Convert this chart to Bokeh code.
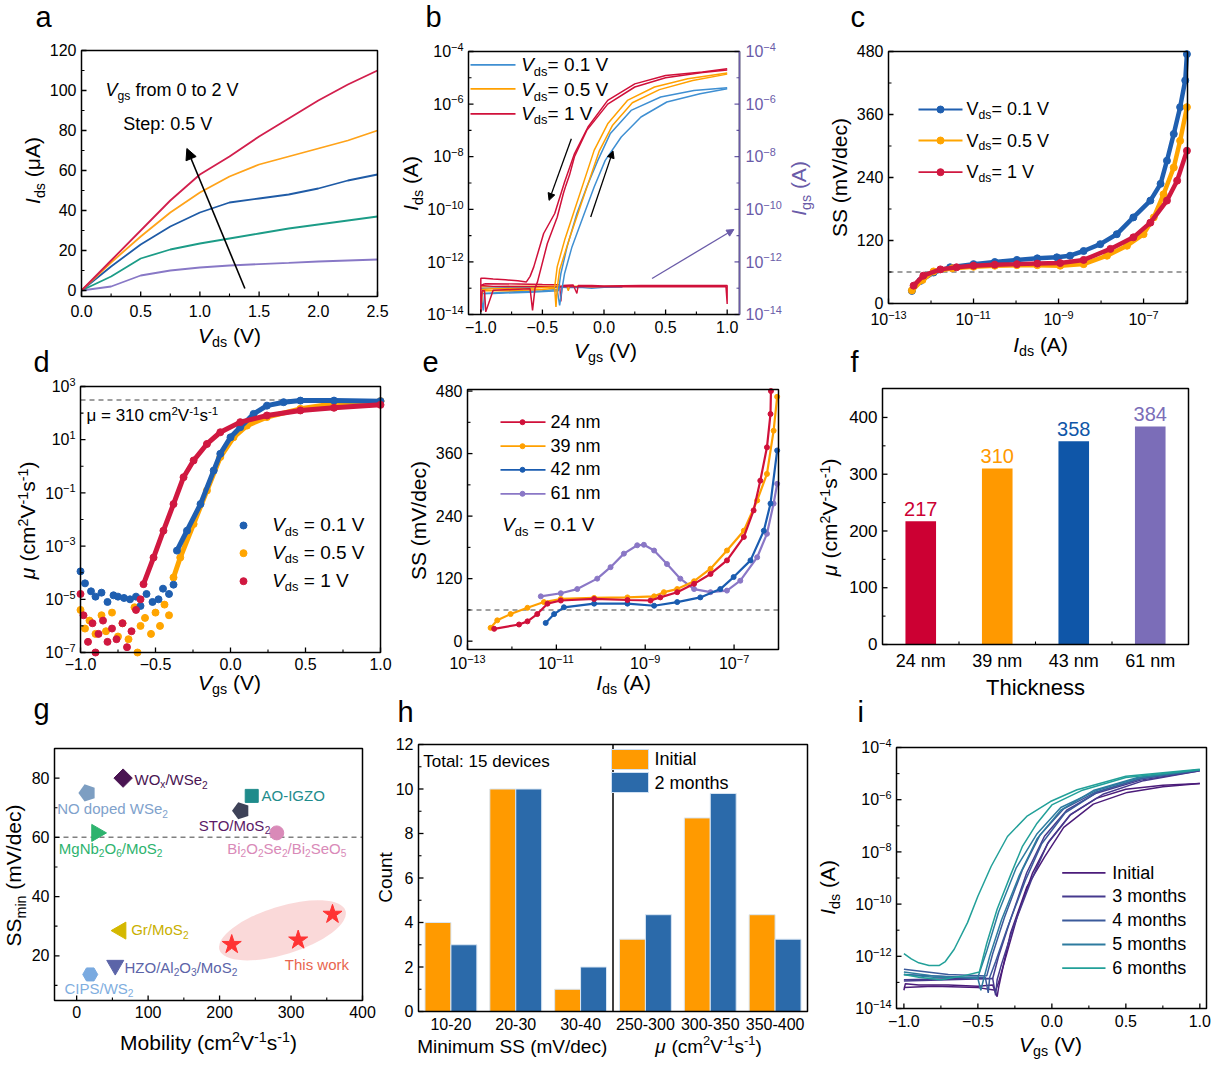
import math
from bokeh.plotting import figure
from bokeh.models import Range1d, Label, Arrow, NormalHead, LinearScale, LogScale
from bokeh.embed import file_html
from bokeh.resources import INLINE

FONT = "Liberation Sans"

# ---------------- (a) output curves ----------------
A_VDS = [0, 0.25, 0.5, 0.75, 1.0, 1.25, 1.5, 1.75, 2.0, 2.25, 2.5]
A_VGS_0 = [0, 2, 7.5, 10, 11.5, 12.5, 13.2, 13.8, 14.5, 15, 15.5]
A_VGS_05 = [0, 7, 16, 20.5, 23.5, 26, 28.5, 31, 33, 35, 37]
A_VGS_10 = [0, 12, 23, 32, 39, 44, 46, 48, 51, 55, 58]
A_VGS_15 = [0, 14, 27, 39, 49, 57, 63, 67, 71, 75, 80]
A_VGS_20 = [0, 15, 30, 45, 58, 67, 77, 86, 95, 103, 110]
A_COLORS = ["#8878C6", "#1C9C87", "#1F5BA6", "#FFA31A", "#D21F4D"]

# ---------------- (b) transfer curves (log10 of current) ----------------
B_RED_L_V = [1.0, 0.8, 0.5, 0.25, 0.03, -0.13, -0.24, -0.32, -0.4, -0.49, -0.57, -0.6, -0.63, -0.7, -0.8, -0.9, -0.97, -1.0, -1.0]
B_RED_L_I = [-4.66, -4.78, -4.91, -5.23, -5.86, -6.87, -7.89, -8.96, -10.16, -10.92, -12.19, -12.55, -12.76, -12.72, -12.68, -12.65, -12.62, -12.62, -13.9]
B_RED_R_V = [-1.0, -0.99, -0.97, -0.96, -0.9, -0.75, -0.6, -0.58, -0.56, -0.54, -0.46, -0.38, -0.33, -0.31, -0.28, -0.24, -0.14, 0.03, 0.25, 0.5, 0.8, 1.0]
B_RED_R_I = [-13.9, -13.1, -13.1, -13.9, -13.08, -13.05, -13.02, -13.84, -13.0, -12.76, -11.3, -10.3, -9.4, -9.1, -8.7, -8.0, -7.0, -6.0, -5.35, -5.0, -4.8, -4.7]
B_ORA_L_V = [1.0, 0.68, 0.41, 0.19, 0.03, -0.08, -0.16, -0.24, -0.32, -0.38, -0.4, -0.6, -0.9, -1.0]
B_ORA_L_I = [-4.82, -5.04, -5.35, -5.86, -6.75, -7.76, -8.9, -10.04, -11.18, -12.19, -12.95, -13.0, -13.02, -13.05]
B_ORA_R_V = [-1.0, -0.99, -0.98, -0.8, -0.5, -0.4, -0.39, -0.38, -0.36, -0.34, -0.28, -0.2, -0.12, -0.04, 0.07, 0.23, 0.45, 0.72, 1.0]
B_ORA_R_I = [-13.9, -13.2, -13.1, -13.1, -13.05, -13.0, -13.71, -13.0, -12.3, -12.0, -11.1, -10.0, -8.9, -7.8, -6.8, -5.95, -5.45, -5.1, -4.86]
B_BLU_L_V = [1.0, 0.73, 0.46, 0.22, 0.05, -0.05, -0.14, -0.22, -0.3, -0.35, -0.37, -0.6, -0.9, -1.0]
B_BLU_L_I = [-5.38, -5.48, -5.73, -6.24, -7.13, -8.14, -9.15, -10.16, -11.43, -12.44, -13.1, -13.15, -13.2, -13.2]
B_BLU_R_V = [-1.0, -0.98, -0.97, -0.8, -0.5, -0.38, -0.36, -0.34, -0.32, -0.26, -0.16, -0.08, 0.01, 0.14, 0.3, 0.51, 0.78, 1.0]
B_BLU_R_I = [-13.2, -13.85, -13.2, -13.15, -13.1, -13.05, -13.65, -13.0, -12.44, -11.43, -10.16, -9.15, -8.14, -7.25, -6.49, -5.92, -5.61, -5.42]
B_IGS_V = [-1.0, -0.98, -0.96, -0.7, -0.5, -0.36, -0.35, -0.34, -0.25, -0.22, -0.21, -0.1, 0.0, 0.3, 0.6, 0.9, 0.99, 1.0, 1.0, 0.99, 0.5, 0.0, -0.5, -0.9, -1.0]
B_IGS_RED = [-12.9, -12.85, -12.83, -12.84, -12.86, -12.87, -13.5, -12.9, -12.88, -13.2, -12.9, -12.9, -12.91, -12.9, -12.9, -12.9, -12.9, -12.9, -13.6, -12.95, -12.94, -12.95, -12.94, -12.93, -12.9]
B_IGS_V2 = [-1.0, -0.8, -0.6, -0.4, -0.3, -0.29, -0.28, -0.2, -0.1, 0.0, 0.15]
B_IGS_ORA = [-12.95, -12.93, -12.92, -12.92, -12.93, -13.1, -12.93, -12.92, -12.95, -12.93, -12.92]
B_IGS_BLU = [-13.0, -12.98, -12.97, -12.96, -12.98, -13.05, -12.98, -12.97, -13.0, -12.97, -12.96]
B_LEGEND = ["0.1 V", "0.5 V", "1 V"]
B_COLORS = ["#3F8FD2", "#FFA000", "#D0103A"]
B_PURPLE = "#6A5BA8"

# ---------------- (c) SS vs Ids ----------------
C_X01 = [-12.45, -12.25, -11.94, -11.55, -11.0, -10.5, -9.98, -9.5, -9.04, -8.73, -8.41, -8.02, -7.63, -7.24, -6.84, -6.6, -6.45, -6.29, -6.14, -6.02, -5.98]
C_Y01 = [24, 43, 59, 69, 75, 79, 83, 86, 88, 91, 100, 113, 132, 164, 196, 228, 272, 323, 374, 425, 475]
C_X05 = [-12.45, -12.2, -11.94, -11.5, -11.0, -10.5, -9.98, -9.5, -8.96, -8.41, -7.86, -7.39, -7.0, -6.76, -6.53, -6.29, -6.14, -5.98]
C_Y05 = [25, 45, 61, 67, 70, 72, 73, 73, 72, 75, 91, 110, 132, 164, 208, 259, 310, 374]
C_X1 = [-12.41, -12.18, -11.78, -11.4, -11.0, -10.5, -9.98, -9.5, -8.96, -8.41, -7.78, -7.24, -6.84, -6.45, -6.21, -5.98]
C_Y1 = [34, 53, 65, 69, 72, 74, 75, 76, 77, 83, 104, 126, 154, 196, 234, 291]
C_COLORS = ["#1F5FB0", "#FFA500", "#D01840"]

# ---------------- (d) mobility vs Vgs ----------------
D_V01 = [-0.357, -0.29, -0.2, -0.112, -0.068, 0.0, 0.065, 0.154, 0.243, 0.354, 0.466, 0.69, 1.0]
D_L01 = [-3.17, -2.42, -1.42, -0.16, 0.47, 1.09, 1.47, 1.97, 2.28, 2.41, 2.47, 2.47, 2.45]
D_V05 = [-0.38, -0.335, -0.246, -0.157, -0.068, 0.02, 0.11, 0.243, 0.466, 0.69, 1.0]
D_L05 = [-4.18, -3.43, -2.17, -0.91, 0.35, 1.09, 1.53, 1.85, 2.16, 2.35, 2.45]
D_V1 = [-0.58, -0.513, -0.447, -0.38, -0.313, -0.246, -0.157, -0.068, 0.065, 0.243, 0.466, 0.69, 1.0]
D_L1 = [-4.43, -3.43, -2.42, -1.42, -0.41, 0.22, 0.84, 1.28, 1.66, 1.91, 2.1, 2.2, 2.31]
D_N01_V = [-1.0, -0.97, -0.93, -0.9, -0.86, -0.82, -0.78, -0.75, -0.71, -0.67, -0.63, -0.6, -0.56, -0.52, -0.48, -0.45, -0.41, -0.38]
D_N01_L = [-3.95, -4.4, -4.7, -4.9, -4.75, -5.1, -4.85, -4.9, -4.95, -5.0, -4.9, -5.25, -4.8, -5.1, -5.0, -4.6, -4.8, -4.45]
D_N05_V = [-1.0, -0.97, -0.94, -0.9, -0.86, -0.83, -0.79, -0.75, -0.72, -0.68, -0.64, -0.6, -0.57, -0.53, -0.5, -0.47, -0.44, -0.41, -0.62]
D_N05_L = [-5.4, -6.1, -5.8, -6.3, -5.6, -6.2, -5.5, -6.4, -5.9, -6.5, -5.3, -6.0, -5.7, -6.3, -5.5, -6.0, -5.2, -5.6, -7.0]
D_N1_V = [-1.0, -0.98, -0.95, -0.92, -0.88, -0.85, -0.82, -0.79, -0.76, -0.72, -0.69, -0.66, -0.63, -0.6, -0.9]
D_N1_L = [-4.8, -5.6, -6.6, -5.9, -6.3, -5.8, -6.6, -6.1, -6.5, -5.9, -6.8, -6.2, -5.4, -5.0, -7.0]
D_MU_REF = 310

# ---------------- (e) SS vs Ids for thicknesses ----------------
E_X24 = [-12.4, -11.84, -11.65, -11.43, -11.2, -10.9, -10.15, -9.4, -8.88, -8.66, -8.28, -7.9, -7.53, -7.16, -6.78, -6.56, -6.41, -6.26, -6.18, -6.17]
E_Y24 = [23.7, 32, 38, 52, 72, 78, 81, 79, 78, 84, 94, 110, 129, 155, 200, 251, 308, 372, 436, 480]
E_X39 = [-12.48, -12.33, -12.03, -11.65, -11.28, -10.9, -10.15, -9.4, -8.8, -8.58, -8.28, -7.9, -7.53, -7.16, -6.78, -6.48, -6.26, -6.11, -6.03]
E_Y39 = [25.6, 40, 52, 64, 75, 81, 83, 84, 86, 94, 100, 115, 139, 174, 212, 270, 321, 404, 469]
E_X42 = [-11.24, -11.05, -10.83, -10.15, -9.4, -8.8, -8.28, -7.76, -7.31, -7.01, -6.63, -6.33, -6.18, -6.03]
E_Y42 = [35, 52, 65, 72, 72, 68, 75, 84, 100, 123, 155, 212, 264, 366]
E_X61 = [-11.35, -10.9, -10.53, -10.08, -9.78, -9.48, -9.18, -9.03, -8.8, -8.51, -8.21, -7.9, -7.53, -7.16, -6.86, -6.48, -6.26, -6.11, -6.03]
E_Y61 = [86, 92, 100, 120, 142, 168, 184, 185, 174, 148, 120, 100, 94, 97, 116, 161, 206, 264, 302]
E_NAMES = ["24 nm", "39 nm", "42 nm", "61 nm"]
E_COLORS = ["#D0103A", "#FFA000", "#1A5CB0", "#8A77C6"]

# ---------------- (f) mobility vs thickness ----------------
F_CAT = ["24 nm", "39 nm", "43 nm", "61 nm"]
F_MU = [217, 310, 358, 384]
F_COLORS = ["#CC0033", "#FF9900", "#0F56A8", "#7B6DB8"]

# ---------------- (g) benchmark ----------------
G_WOX = (65, 80)
G_NOWSE = (15, 75)
G_AOIGZO = (245, 74)
G_STO = (230, 69)
G_BI = (280, 61.5)
G_MGNB = (28, 61.5)
G_GR = (62, 28.5)
G_HZO = (54, 16.8)
G_CIPS = (19, 13.7)
G_THIS_MOB = [217, 310, 358]
G_THIS_SS = [23.8, 25.3, 34.0]

# ---------------- (h) histograms ----------------
H_BINS = ["10-20", "20-30", "30-40", "250-300", "300-350", "350-400"]
H_INITIAL = [4, 10, 1, 3.25, 8.7, 4.35]
H_2MONTHS = [3, 10, 2, 4.35, 9.8, 3.25]

# ---------------- (i) aging transfer curves ----------------
I_NAMES = ["Initial", "3 months", "4 months", "5 months", "6 months"]
I_COLORS = ["#4B1C7A", "#463A8E", "#3B5A9B", "#2D7B9F", "#22A099"]
I0_A_V = [-1.0, -0.99, -0.9, -0.7, -0.5, -0.4, -0.37, -0.36, -0.33, -0.28, -0.17, -0.05, 0.08, 0.28, 0.51, 0.75, 1.0]
I0_A_I = [-13.3, -13.05, -13.1, -13.1, -13.15, -13.1, -13.55, -13.2, -12.4, -11.13, -9.35, -8.2, -7.06, -6.17, -5.72, -5.5, -5.38]
I0_B_V = [1.0, 0.75, 0.5, 0.3, 0.12, -0.02, -0.13, -0.23, -0.3, -0.36, -0.38, -0.5, -0.8, -1.0]
I0_B_I = [-5.38, -5.45, -5.6, -5.95, -6.6, -7.6, -8.8, -10.4, -11.8, -13.0, -13.3, -13.2, -13.15, -13.2]
I3_A_V = [-1.0, -0.6, -0.4, -0.38, -0.37, -0.34, -0.26, -0.14, -0.03, 0.13, 0.35, 0.62, 1.0]
I3_A_I = [-12.9, -12.85, -12.85, -13.5, -12.9, -12.3, -10.88, -9.1, -7.69, -6.55, -5.78, -5.27, -4.89]
I3_B_V = [1.0, 0.6, 0.3, 0.1, -0.05, -0.17, -0.28, -0.36, -0.4, -0.7, -1.0]
I3_B_I = [-4.89, -5.25, -5.75, -6.4, -7.4, -8.8, -10.6, -12.0, -12.85, -12.9, -12.95]
I4_A_V = [-1.0, -0.6, -0.45, -0.43, -0.42, -0.38, -0.3, -0.18, -0.07, 0.09, 0.31, 0.6, 1.0]
I4_A_I = [-12.7, -12.8, -12.8, -13.4, -12.8, -12.2, -10.9, -9.1, -7.7, -6.5, -5.7, -5.2, -4.86]
I4_B_V = [1.0, 0.6, 0.3, 0.08, -0.08, -0.2, -0.32, -0.4, -0.44, -0.7, -1.0]
I4_B_I = [-4.86, -5.2, -5.7, -6.35, -7.35, -8.7, -10.5, -11.9, -12.75, -12.7, -12.5]
I5_A_V = [-1.0, -0.8, -0.5, -0.48, -0.46, -0.42, -0.34, -0.22, -0.1, 0.06, 0.28, 0.58, 1.0]
I5_A_I = [-12.6, -12.75, -12.85, -13.3, -12.85, -12.0, -10.6, -8.9, -7.5, -6.4, -5.65, -5.15, -4.85]
I5_B_V = [1.0, 0.6, 0.3, 0.06, -0.1, -0.24, -0.36, -0.44, -0.5, -0.8, -1.0]
I5_B_I = [-4.85, -5.15, -5.65, -6.3, -7.3, -8.6, -10.3, -11.8, -12.8, -12.8, -12.7]
I6_A_V = [-1.0, -0.95, -0.9, -0.83, -0.76, -0.72, -0.66, -0.57, -0.5, -0.41, -0.3, -0.17, -0.01, 0.17, 0.5, 1.0]
I6_A_I = [-11.9, -12.1, -12.25, -12.35, -12.35, -12.2, -11.73, -10.71, -9.7, -8.55, -7.41, -6.64, -6.07, -5.62, -5.1, -4.83]
I6_B_V = [1.0, 0.5, 0.2, 0.0, -0.1, -0.2, -0.28, -0.37, -0.44, -0.49, -0.6, -0.75, -0.9, -1.0]
I6_B_I = [-4.85, -5.15, -5.65, -6.2, -6.9, -7.8, -8.9, -10.2, -11.5, -12.6, -12.75, -12.9, -12.8, -12.7]

# ---------------- tick definitions ----------------
V_T = [-1.0, -0.5, 0.0, 0.5, 1.0]
V_M = [-0.75, -0.25, 0.25, 0.75]
LOG_T = [-14, -12, -10, -8, -6, -4]
LOG_M = [-13, -11, -9, -7, -5]
IDS_T = [-13, -11, -9, -7]
IDS_M = [-12, -10, -8, -6]
MU_T = [-7, -5, -3, -1, 1, 3]
MU_M = [-6, -4, -2, 0, 2]

# ---------------- helpers ----------------
AW = {' ': 278, '!': 278, '(': 333, ')': 333, '-': 333, '.': 278, '/': 278, ':': 278, '=': 584,
      'A': 667, 'B': 667, 'C': 722, 'D': 722, 'E': 667, 'F': 611, 'G': 778, 'H': 722, 'I': 278,
      'J': 500, 'K': 667, 'L': 556, 'M': 833, 'N': 722, 'O': 778, 'P': 667, 'Q': 778, 'R': 722,
      'S': 667, 'T': 611, 'U': 722, 'V': 667, 'W': 944, 'X': 667, 'Y': 667, 'Z': 611,
      'a': 556, 'b': 556, 'c': 500, 'd': 556, 'e': 556, 'f': 278, 'g': 556, 'h': 556, 'i': 222,
      'j': 222, 'k': 500, 'l': 222, 'm': 833, 'n': 556, 'o': 556, 'p': 556, 'q': 556, 'r': 333,
      's': 500, 't': 278, 'u': 556, 'v': 500, 'w': 722, 'x': 500, 'y': 500, 'z': 500,
      'μ': 576, '−': 584}
BASE_K = 0.38    # offset between a Label's anchor and its baseline (em), horizontal text
BASE_KV = 0.52   # same for rotated text

W, H = 1211, 1063
FIG = figure(width=W, height=H, x_range=Range1d(0, W), y_range=Range1d(0, H),
             x_axis_location=None, y_axis_location=None,
             output_backend="svg", toolbar_location=None, title=None,
             min_border=0, min_border_left=0, min_border_right=0,
             min_border_top=0, min_border_bottom=0)
FIG.outline_line_color = None
FIG.background_fill_color = "white"
FIG.border_fill_color = "white"
FIG.xgrid.visible = False
FIG.ygrid.visible = False
for _g in FIG.grid:
    _g.grid_line_color = None
XR, YR, XS, YS = {}, {}, {}, {}


def tw(s, size):
    return sum(AW.get(ch, 556) for ch in s) * size / 1000.0


def lg(v):
    return [10 ** x for x in v]


def num(v, fmt):
    return [((fmt % v).replace("-", "−"), "n")]


def pw(e):
    return [("10", "n"), (("%d" % e).replace("-", "−"), "p")]


class _Proxy:
    def __init__(self, kw):
        self.kw = kw

    def __getattr__(self, name):
        fn = getattr(FIG, name)
        return lambda *a, **k: fn(*a, **k, **self.kw)


class Panel:
    """One sub-plot: its own named x/y ranges on the shared page-sized figure."""

    def __init__(self, name, frame, xr, yr, xlog=False, ylog=False):
        self.fl, self.ft, self.fr, self.fb = frame
        self.xr, self.yr, self.xlog, self.ylog = xr, yr, xlog, ylog
        xn, yn = name + "_x", name + "_y"
        XR[xn] = Range1d(self.xd(0), self.xd(W))
        YR[yn] = Range1d(self.yd(H), self.yd(0))
        XS[xn] = LogScale() if xlog else LinearScale()
        YS[yn] = LogScale() if ylog else LinearScale()
        self.kw = {"x_range_name": xn, "y_range_name": yn}
        self.p = _Proxy(self.kw)

    def _map(self, t, r, log):
        a, b = r
        if log:
            return 10 ** (math.log10(a) + t * (math.log10(b) - math.log10(a)))
        return a + t * (b - a)

    def _inv(self, v, r, log):
        a, b = r
        if log:
            return (math.log10(v) - math.log10(a)) / (math.log10(b) - math.log10(a))
        return (v - a) / (b - a)

    def xd(self, px):
        return self._map((px - self.fl) / (self.fr - self.fl), self.xr, self.xlog)

    def yd(self, py):
        return self._map((self.fb - py) / (self.fb - self.ft), self.yr, self.ylog)

    def xp(self, v):
        return self.fl + self._inv(v, self.xr, self.xlog) * (self.fr - self.fl)

    def yp(self, v):
        return self.fb - self._inv(v, self.yr, self.ylog) * (self.fb - self.ft)

    def rich(self, px, py, segs, size, color="black", vertical=False, align="left"):
        sizes = [size * 0.68 if k in "bp" else size for t, k in segs]
        total = sum(tw(t, s) for (t, k), s in zip(segs, sizes))
        off = {"left": 0.0, "center": -total / 2, "right": -total}[align]
        for (t, k), s in zip(segs, sizes):
            lead = len(t) - len(t.lstrip(" "))
            off += tw(" " * lead, s)
            t = t.lstrip(" ")
            shift = 0.2 * size if k == "b" else (-0.4 * size if k == "p" else 0.0)
            shift -= (BASE_KV if vertical else BASE_K) * s
            if vertical:
                x, y = px + shift, py - off
            else:
                x, y = px + off, py + shift
            FIG.add_layout(Label(x=self.xd(x), y=self.yd(y), text=t,
                                 angle=math.pi / 2 if vertical else 0,
                                 text_font=FONT, text_font_size=f"{s:.1f}px",
                                 text_font_style="italic" if k == "i" else "normal",
                                 text_color=color, text_align="left",
                                 text_baseline="alphabetic", **self.kw))
            off += tw(t, s)

    def arrow(self, x0, y0, x1, y1, color, size, width):
        FIG.add_layout(Arrow(end=NormalHead(size=size, fill_color=color, line_color=color),
                             x_start=x0, y_start=y0, x_end=x1, y_end=y1,
                             line_color=color, line_width=width, **self.kw))

    def xaxis(self, major, minor, labels, base_off=20, size=16, ticks=True):
        yb = self.yd(self.fb)
        if ticks and major:
            self.p.segment(x0=major, y0=[yb] * len(major), x1=major,
                           y1=[self.yd(self.fb - 5)] * len(major), line_color="black", line_width=1.3)
        if minor:
            self.p.segment(x0=minor, y0=[yb] * len(minor), x1=minor,
                           y1=[self.yd(self.fb - 3)] * len(minor), line_color="black", line_width=1.1)
        for v, lab in zip(major, labels):
            self.rich(self.xp(v), self.fb + base_off, lab, size, align="center")

    def yaxis(self, major, minor, labels, side="left", size=16, color="black", gap=5):
        edge = self.fl if side == "left" else self.fr
        sg = 1 if side == "left" else -1
        xe = self.xd(edge)
        self.p.segment(x0=[xe] * len(major), y0=major, x1=[self.xd(edge + 5 * sg)] * len(major),
                       y1=major, line_color=color, line_width=1.3)
        if minor:
            self.p.segment(x0=[xe] * len(minor), y0=minor, x1=[self.xd(edge + 3 * sg)] * len(minor),
                           y1=minor, line_color=color, line_width=1.1)
        for v, lab in zip(major, labels):
            py = self.yp(v) + 0.36 * size
            if side == "left":
                self.rich(self.fl - gap, py, lab, size, color=color, align="right")
            else:
                self.rich(self.fr + gap, py, lab, size, color=color, align="left")

    def box(self):
        self.p.quad(left=[self.xr[0]], right=[self.xr[1]], bottom=[self.yr[0]], top=[self.yr[1]],
                    fill_color=None, line_color="black", line_width=1.5)

    def dashed(self, v):
        self.p.line([self.xr[0], self.xr[1]], [v, v], line_color="#808080",
                    line_dash="5 4", line_width=1.5)

    def hline(self, x1, x2, py, color, width=1.8):
        self.p.line([self.xd(x1), self.xd(x2)], [self.yd(py)] * 2, line_color=color, line_width=width)

    def dot(self, px, py, color, size=7):
        self.p.scatter([self.xd(px)], [self.yd(py)], size=size, color=color)


MU_UNIT = [("μ", "i"), (" (cm", "n"), ("2", "p"), ("V", "n"), ("-1", "p"), ("s", "n"), ("-1", "p"), (")", "n")]
LETTER = 29

# ================= (a) =================
A = Panel("a", (81, 50, 377, 296), (0, 2.5), (-3, 120))
for ser, col in zip([A_VGS_0, A_VGS_05, A_VGS_10, A_VGS_15, A_VGS_20], A_COLORS):
    A.p.line(A_VDS, ser, line_color=col, line_width=1.8)
A.arrow(1.38, 1, 0.89, 71, "black", 11, 1.6)
A_XT = [0, 0.5, 1.0, 1.5, 2.0, 2.5]
A_YT = [0, 20, 40, 60, 80, 100, 120]
A.xaxis(A_XT, [0.25, 0.75, 1.25, 1.75, 2.25], [num(v, "%.1f") for v in A_XT], base_off=21)
A.yaxis(A_YT, [10, 30, 50, 70, 90, 110], [num(v, "%d") for v in A_YT])
A.box()
A.rich(105, 96.7, [("V", "i"), ("gs", "b"), (" from 0 to 2 V", "n")], 18)
A.rich(122.7, 130.7, [("Step: 0.5 V", "n")], 18)
A.rich(229, 343, [("V", "i"), ("ds", "b"), (" (V)", "n")], 21, align="center")
A.rich(43, 170, [("I", "i"), ("ds", "b"), (" (μA)", "n")], 21, vertical=True, align="center")
A.rich(35, 28, [("a", "n")], LETTER)

# ================= (b) =================
B = Panel("b", (468, 51, 739, 314), (-1.1, 1.1), (1e-14, 1e-4), ylog=True)
B.p.line(B_IGS_V2, lg(B_IGS_BLU), line_color=B_COLORS[0], line_width=1.4)
B.p.line(B_IGS_V2, lg(B_IGS_ORA), line_color=B_COLORS[1], line_width=1.4)
B.p.line(B_IGS_V, lg(B_IGS_RED), line_color=B_COLORS[2], line_width=1.4)
for vv, ii, col in [(B_BLU_L_V, B_BLU_L_I, 0), (B_BLU_R_V, B_BLU_R_I, 0),
                    (B_ORA_L_V, B_ORA_L_I, 1), (B_ORA_R_V, B_ORA_R_I, 1),
                    (B_RED_L_V, B_RED_L_I, 2), (B_RED_R_V, B_RED_R_I, 2)]:
    B.p.line(vv, lg(ii), line_color=B_COLORS[col], line_width=1.5)
for (x0, y0, x1, y1, c) in [(-0.265, -7.32, -0.446, -9.66, "black"),
                            (-0.108, -10.29, 0.073, -7.78, "black"),
                            (0.39, -12.63, 1.054, -10.77, B_PURPLE)]:
    B.arrow(x0, 10 ** y0, x1, 10 ** y1, c, 7, 1.3)
B.xaxis(V_T, V_M, [num(v, "%.1f") for v in V_T], base_off=19)
B.yaxis(lg(LOG_T), lg(LOG_M), [pw(e) for e in LOG_T])
B.yaxis(lg(LOG_T), lg(LOG_M), [pw(e) for e in LOG_T], side="right", color=B_PURPLE, gap=6)
B.box()
B.p.line([B.xr[1], B.xr[1]], [B.yr[0], B.yr[1]], line_color=B_PURPLE, line_width=1.5)
for k, (lab, py, by) in enumerate(zip(B_LEGEND, [64.3, 88.3, 113.3], [71.7, 96.7, 120.5])):
    B.hline(470, 515, py, B_COLORS[k])
    B.rich(520.7, by, [("V", "i"), ("ds", "b"), ("= " + lab, "n")], 19)
B.rich(421, 183, [("I", "i"), ("ds", "b"), (" (A)", "n")], 21, vertical=True, align="center")
B.rich(809, 188, [("I", "i"), ("gs", "b"), (" (A)", "n")], 21, color=B_PURPLE, vertical=True, align="center")
B.rich(605, 358, [("V", "i"), ("gs", "b"), (" (V)", "n")], 21, align="center")
B.rich(425, 28, [("b", "n")], LETTER)

# ================= (c) =================
C = Panel("c", (888, 51, 1187, 303), (1e-13, 1.08e-6), (0, 480), xlog=True)
C.dashed(60)
for xs, ys, col in [(C_X01, C_Y01, C_COLORS[0]), (C_X05, C_Y05, C_COLORS[1]), (C_X1, C_Y1, C_COLORS[2])]:
    C.p.line(lg(xs), ys, line_color=col, line_width=4.5)
    C.p.scatter(lg(xs), ys, size=7, color=col)
SS_T = [0, 120, 240, 360, 480]
C.xaxis(lg(IDS_T), lg(IDS_M), [pw(e) for e in IDS_T], base_off=22)
C.yaxis(SS_T, [60, 180, 300, 420], [num(v, "%d") for v in SS_T])
C.box()
for k, (lab, py, by) in enumerate(zip(B_LEGEND, [109, 140, 171.7], [115.5, 147, 178.5])):
    C.hline(918, 962, py, C_COLORS[k])
    C.dot(940, py, C_COLORS[k])
    C.rich(966, by, [("V", "n"), ("ds", "b"), ("= " + lab, "n")], 18)
C.rich(850, 177, [("SS (mV/dec)", "n")], 21, vertical=True, align="center")
C.rich(1040, 352, [("I", "i"), ("ds", "b"), (" (A)", "n")], 21, align="center")
C.rich(850, 28, [("c", "n")], LETTER)

# ================= (d) =================
D = Panel("d", (80, 386, 380, 652), (-1, 1), (1e-7, 1e3), ylog=True)
D.dashed(D_MU_REF)
for nv, nl, v, l, col in [(D_N05_V, D_N05_L, D_V05, D_L05, C_COLORS[1]),
                          (D_N01_V, D_N01_L, D_V01, D_L01, C_COLORS[0]),
                          (D_N1_V, D_N1_L, D_V1, D_L1, C_COLORS[2])]:
    D.p.scatter(nv, lg(nl), size=7, color=col)
    D.p.line(v, lg(l), line_color=col, line_width=5)
    D.p.scatter(v, lg(l), size=7, color=col)
D.xaxis(V_T, V_M, [num(v, "%.1f") for v in V_T], base_off=18)
D.yaxis(lg(MU_T), lg(MU_M), [pw(e) for e in MU_T])
D.box()
D.rich(86, 421.7, [("μ = 310 cm", "n"), ("2", "p"), ("V", "n"), ("-1", "p"), ("s", "n"), ("-1", "p")], 17)
for k, (lab, py) in enumerate(zip(B_LEGEND, [525, 552.7, 580.7])):
    D.dot(243, py, C_COLORS[k], size=7)
    D.rich(271.7, py + 6.7, [("V", "i"), ("ds", "b"), (" = " + lab, "n")], 19)
D.rich(38, 520, MU_UNIT, 21, vertical=True, align="center")
D.rich(229, 690, [("V", "i"), ("gs", "b"), (" (V)", "n")], 21, align="center")
D.rich(33, 373, [("d", "n")], LETTER)

# ================= (e) =================
E = Panel("e", (467, 389, 778, 649), (1e-13, 1e-6), (-16, 483), xlog=True)
E.dashed(60)
for xs, ys, col in [(E_X61, E_Y61, E_COLORS[3]), (E_X42, E_Y42, E_COLORS[2]),
                    (E_X39, E_Y39, E_COLORS[1]), (E_X24, E_Y24, E_COLORS[0])]:
    E.p.line(lg(xs), ys, line_color=col, line_width=2.2)
    E.p.scatter(lg(xs), ys, size=5, color=col)
E.xaxis(lg(IDS_T), lg(IDS_M), [pw(e) for e in IDS_T], base_off=20)
E.yaxis(SS_T, [60, 180, 300, 420], [num(v, "%d") for v in SS_T])
E.box()
for k, (lab, py) in enumerate(zip(E_NAMES, [421.7, 445.7, 469.3, 493.3])):
    E.hline(500, 545, py, E_COLORS[k])
    E.dot(522, py, E_COLORS[k], size=5)
    E.rich(550, py + 6.5, [(lab, "n")], 18)
E.rich(501.7, 531.7, [("V", "i"), ("ds", "b"), (" = 0.1 V", "n")], 19)
E.rich(429, 520, [("SS (mV/dec)", "n")], 21, vertical=True, align="center")
E.rich(623, 690, [("I", "i"), ("ds", "b"), (" (A)", "n")], 21, align="center")
E.rich(422, 373, [("e", "n")], LETTER)

# ================= (f) =================
F = Panel("f", (882, 388, 1188, 644), (0, 4), (0, 451))
F_X = [i + 0.5 for i in range(len(F_CAT))]
F.p.vbar(x=F_X, width=0.4, top=F_MU, fill_color=F_COLORS, line_color=None)
F_YT = [0, 100, 200, 300, 400]
F.xaxis(F_X, [1, 2, 3], [[(c, "n")] for c in F_CAT], base_off=23, size=18, ticks=False)
F.yaxis(F_YT, [50, 150, 250, 350], [num(v, "%d") for v in F_YT], size=17)
F.box()
for x, v, col in zip(F_X, F_MU, F_COLORS):
    F.rich(F.xp(x), F.yp(v) - 4.5, [(str(v), "n")], 20, color=col, align="center")
F.rich(840, 517, MU_UNIT, 21, vertical=True, align="center")
F.rich(1035, 695, [("Thickness", "n")], 22, align="center")
F.rich(850, 373, [("f", "n")], LETTER)

# ================= (g) =================
G = Panel("g", (54, 748, 362, 1000), (-31, 400), (4.9, 90))
G.dashed(60)
G.p.ellipse(x=[288], y=[28.6], width=132, height=48, angle=0.3, width_units="screen",
            height_units="screen", fill_color="#F9CFCF", fill_alpha=0.8, line_color=None)
G.p.scatter([G_WOX[0]], [G_WOX[1]], marker="square", size=13, angle=math.pi / 4, color="#4A1452")
G.p.ngon(x=[G_NOWSE[0], G_STO[0]], y=[G_NOWSE[1], G_STO[1]], radius=9, radius_units="screen",
         n=5, angle=math.pi / 2, fill_color=["#7D9EC2", "#3E4258"], line_color=None)
G.p.scatter([G_AOIGZO[0]], [G_AOIGZO[1]], marker="square", size=13, color="#1F8B8B")
G.p.scatter([G_BI[0]], [G_BI[1]], marker="circle", size=14, color="#D98AB8")
G.p.scatter([G_MGNB[0]], [G_MGNB[1]], marker="triangle", size=17, angle=-math.pi / 2, color="#2DB36E")
G.p.scatter([G_GR[0]], [G_GR[1]], marker="triangle", size=17, angle=math.pi / 2, color="#D4B800")
G.p.scatter([G_HZO[0]], [G_HZO[1]], marker="inverted_triangle", size=17, color="#5B64A8")
G.p.scatter([G_CIPS[0]], [G_CIPS[1]], marker="hex", size=15, color="#7AAAE0")
G.p.scatter(G_THIS_MOB, G_THIS_SS, marker="star", size=20, color="#FF3333")
G_XT = [0, 100, 200, 300, 400]
G_YT = [20, 40, 60, 80]
G.xaxis(G_XT, [50, 150, 250, 350], [num(v, "%d") for v in G_XT], base_off=18)
G.yaxis(G_YT, [10, 30, 50, 70], [num(v, "%d") for v in G_YT])
G.box()
GS = 15
G.rich(134, 785, [("WO", "n"), ("x", "b"), ("/WSe", "n"), ("2", "b")], GS, color="#4A1452")
G.rich(56.7, 814, [("NO doped WSe", "n"), ("2", "b")], GS, color="#7FA2CC")
G.rich(261, 801, [("AO-IGZO", "n")], GS, color="#1E8C8C")
G.rich(198.3, 830.7, [("STO/MoS", "n"), ("2", "b")], GS, color="#5B1A68")
G.rich(226.7, 853.3, [("Bi", "n"), ("2", "b"), ("O", "n"), ("2", "b"), ("Se", "n"), ("2", "b"),
                      ("/Bi", "n"), ("2", "b"), ("SeO", "n"), ("5", "b")], GS, color="#D98AB8")
G.rich(58.3, 853.3, [("MgNb", "n"), ("2", "b"), ("O", "n"), ("6", "b"), ("/MoS", "n"), ("2", "b")], GS, color="#2DB36E")
G.rich(130.7, 935, [("Gr/MoS", "n"), ("2", "b")], GS, color="#C9B000")
G.rich(124, 972.3, [("HZO/Al", "n"), ("2", "b"), ("O", "n"), ("3", "b"), ("/MoS", "n"), ("2", "b")], GS, color="#5B64A8")
G.rich(64, 993.3, [("CIPS/WS", "n"), ("2", "b")], GS, color="#7FAEE0")
G.rich(284.3, 970, [("This work", "n")], GS, color="#E8654E")
G.rich(24, 875, [("SS", "n"), ("min", "b"), (" (mV/dec)", "n")], 21, vertical=True, align="center")
G.rich(208, 1050, [("Mobility (cm", "n"), ("2", "p"), ("V", "n"), ("-1", "p"), ("s", "n"), ("-1", "p"), (")", "n")], 21, align="center")
G.rich(33, 720, [("g", "n")], LETTER)

# ================= (h) =================
HP = Panel("h", (418, 744, 807, 1011), (0, 6), (0, 12))
H_X = [i + 0.5 for i in range(len(H_BINS))]
HP.p.vbar(x=[x - 0.2 for x in H_X], width=0.4, top=H_INITIAL, fill_color="#FF9A00",
          line_color="#d9e6f3", line_width=1)
HP.p.vbar(x=[x + 0.2 for x in H_X], width=0.4, top=H_2MONTHS, fill_color="#2B6AAA",
          line_color="#d9e6f3", line_width=1)
HP.p.line([3, 3], [0, 12], line_color="black", line_width=1.5)
H_YT = [0, 2, 4, 6, 8, 10, 12]
HP.xaxis(H_X, [], [[(b, "n")] for b in H_BINS], base_off=19, ticks=False)
HP.yaxis(H_YT, [1, 3, 5, 7, 9, 11], [num(v, "%d") for v in H_YT])
HP.box()
HP.p.quad(left=[HP.xd(611)], right=[HP.xd(648)], top=[HP.yd(749)], bottom=[HP.yd(769)],
          fill_color="#FF9A00", line_color="#cfe0f3")
HP.p.quad(left=[HP.xd(611)], right=[HP.xd(648)], top=[HP.yd(772)], bottom=[HP.yd(792)],
          fill_color="#2B6AAA", line_color="#cfe0f3")
HP.rich(654, 765, [("Initial", "n")], 18)
HP.rich(654, 789, [("2 months", "n")], 18)
HP.rich(422.7, 767, [("Total: 15 devices", "n")], 17)
HP.rich(395, 877, [("Count", "n")], 19, vertical=True, align="center")
HP.rich(511.7, 1053, [("Minimum SS (mV/dec)", "n")], 19, align="center")
HP.rich(708, 1053, MU_UNIT, 19, align="center")
HP.rich(397, 723, [("h", "n")], LETTER)

# ================= (i) =================
IP = Panel("i", (896, 747, 1206, 1008), (-1.05, 1.045), (1e-14, 1e-4), ylog=True)
I_SETS = [(I0_A_V, I0_A_I, I0_B_V, I0_B_I), (I3_A_V, I3_A_I, I3_B_V, I3_B_I),
          (I4_A_V, I4_A_I, I4_B_V, I4_B_I), (I5_A_V, I5_A_I, I5_B_V, I5_B_I),
          (I6_A_V, I6_A_I, I6_B_V, I6_B_I)]
for (av, ai, bv, bi), col in zip(I_SETS, I_COLORS):
    IP.p.line(av, lg(ai), line_color=col, line_width=1.5)
    IP.p.line(bv, lg(bi), line_color=col, line_width=1.5)
IP.xaxis(V_T, V_M, [num(v, "%.1f") for v in V_T], base_off=19)
IP.yaxis(lg(LOG_T), lg(LOG_M), [pw(e) for e in LOG_T])
IP.box()
for k, (lab, py) in enumerate(zip(I_NAMES, [872.3, 896, 920, 944, 967.7])):
    IP.hline(1061.7, 1105, py, I_COLORS[k])
    IP.rich(1111.7, py + 6.6, [(lab, "n")], 18)
IP.rich(838, 887, [("I", "i"), ("ds", "b"), (" (A)", "n")], 21, vertical=True, align="center")
IP.rich(1050, 1052, [("V", "i"), ("gs", "b"), (" (V)", "n")], 21, align="center")
IP.rich(857, 723, [("i", "n")], LETTER)

FIG.extra_x_ranges = XR
FIG.extra_y_ranges = YR
FIG.extra_x_scales = XS
FIG.extra_y_scales = YS
open("out.html", "w").write(file_html(FIG, INLINE))
